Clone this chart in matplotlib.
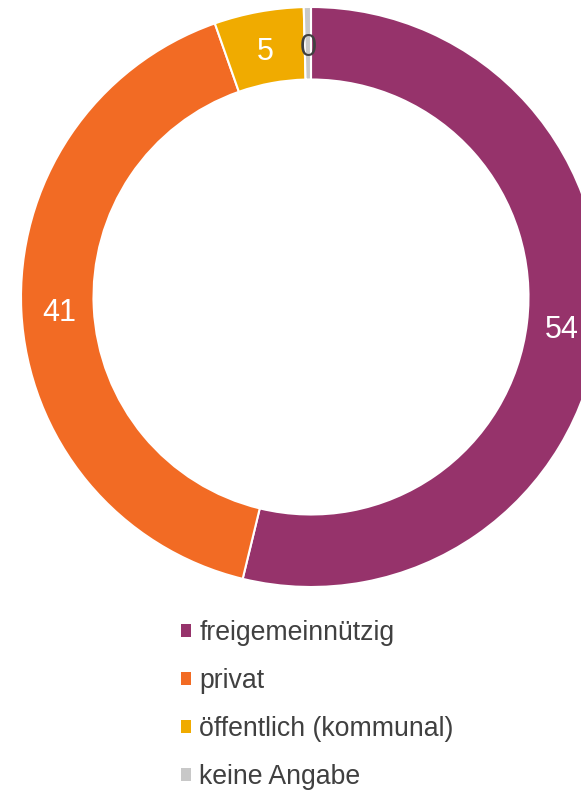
import numpy as np
import matplotlib.pyplot as plt
from matplotlib.patches import Patch

# Data
categories = ['freigemeinnützig', 'privat', 'öffentlich (kommunal)', 'keine Angabe']
values = [54, 41, 5, 0.4]
shown = ['54', '41', '5', '0']
colors = ['#96336B', '#F26B24', '#F0AB00', '#C8C8C8']
label_colors = ['white', 'white', 'white', '#404040']

plt.rcParams['font.family'] = ['Liberation Sans', 'DejaVu Sans']

W, H = 581, 792
fig = plt.figure(figsize=(W / 100, H / 100), dpi=100)

# Donut axes placed in pixel terms: centre (311, 297), radius 290
cx, cy, r = 311, 297, 290
ax = fig.add_axes([(cx - r) / W, (H - cy - r) / H, 2 * r / W, 2 * r / H])

wedges, _ = ax.pie(values, colors=colors, startangle=90, counterclock=False,
                   wedgeprops=dict(width=0.25, edgecolor='white', linewidth=1.5))
ax.set_xlim(-1, 1)
ax.set_ylim(-1, 1)
ax.set_aspect('equal')

# Value labels in the middle of the ring
total = sum(values)
start = 90.0
for v, txt, col in zip(values, shown, label_colors):
    mid = start - v / total * 360 / 2
    start -= v / total * 360
    a = np.deg2rad(mid)
    ax.text(0.87 * np.cos(a), 0.87 * np.sin(a) - 0.01, txt, color=col,
            fontsize=22, ha='center', va='center')

# Legend below
handles = [Patch(facecolor=c, edgecolor='none') for c in colors]
fig.legend(handles, categories, loc='upper left',
           bbox_to_anchor=(181 / W, 1 - 620 / H), frameon=False,
           fontsize=19.2, labelcolor='#404040', handlelength=0.38,
           handleheight=0.38, handletextpad=0.3, labelspacing=0.83,
           borderpad=0, borderaxespad=0)

fig.savefig('out.png', dpi=100)
